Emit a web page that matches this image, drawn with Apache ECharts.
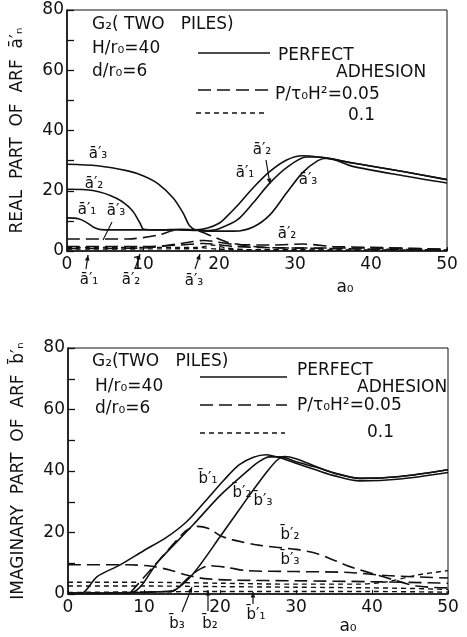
<!DOCTYPE html>
<html><head><meta charset="utf-8">
<script src="https://cdn.jsdelivr.net/npm/echarts@6/dist/echarts.min.js"></script>
<style>html,body{margin:0;padding:0;background:#fff}#c{width:467px;height:637px}</style>
</head><body><div id="c"></div>
<script>
// ---------- data (x = a0, y = ARF) ----------
const X_TICKS = [0, 10, 20, 30, 40, 50];
const Y_TICKS = [0, 20, 40, 60, 80];

// Real part, perfect adhesion
const A1_SOLID = [[0,11],[1.5,10.7],[2.5,9.6],[3.5,7.9],[4.5,7.1],[8,7],[12,7],[15,7.2],[17,7],[18.5,7.6],[20,9.2],[21,11.4],[22.4,15],[24.5,21],[26.7,26.4],[28.9,30.2],[31,31.6],[33,31.2],[37.6,29.2],[44.2,26.4],[50,23.7]];
const A2_SOLID = [[0,20.5],[3.4,20.1],[6.5,17.5],[8.5,13.7],[9.6,9.3],[10.1,7.2],[12,7],[15,7],[17,6.8],[19,6.9],[20,7.4],[22.4,10.3],[24.5,16],[26.7,22.6],[28.9,27.7],[31.5,31.2],[33,31.2],[37.6,29.2],[44.2,26.4],[50,23.7]];
const A3_SOLID = [[0,28.8],[4,28.3],[8,26.6],[10,25],[12,22.3],[14,17.5],[15.3,12.5],[16.1,8.5],[17,7],[19,6.6],[22,6.6],[24.5,8],[26.7,12],[28.9,19.3],[31,26],[33,30],[34.2,30.8],[37.6,28.1],[44.2,25],[50,22.6]];
// Real part, P/t0H^2 = 0.05
const A1_P05 = [[0,1.5],[10,1.5],[15,2],[18,2.5],[22,1.5],[30,1],[40,1],[50,0.5]];
const A2_P05 = [[0,0.8],[10,1],[15,2.5],[18,3.5],[22,2.2],[27,2],[31,2.3],[35,1.5],[40,1.2],[50,0.6]];
const A3_P05 = [[0,4],[8,4],[12,5.3],[14.5,7],[17,6.8],[19,5],[21,3],[23,2],[26,1.2],[30,1],[40,0.6],[50,0.3]];
// Real part, P/t0H^2 = 0.1
const A1_P1 = [[0,1.2],[10,1.2],[17,1.2],[20,0.6],[30,0.4],[50,0.3]];
const A2_P1 = [[0,0.6],[10,0.7],[17,0.8],[19,2],[21,1],[24,0.3],[50,0.2]];

// Imaginary part, perfect adhesion
const B1_SOLID = [[0,0.2],[1.8,0.3],[3.8,5.6],[6.8,9.4],[9.9,14],[13,18.5],[15.6,23.5],[18,30],[20.5,37],[22.5,42],[24.4,44.5],[26.1,45.3],[28,44.2],[30,42.5],[32.7,40.3],[35,38.5],[38.4,36.8],[43.7,37.4],[50,39.5]];
const B2_SOLID = [[0,0.2],[8.2,0.4],[12,11],[16.5,22.6],[20,32],[23.5,39.8],[25,42.8],[26.5,44.6],[28,44.6],[30,43],[32.7,41.2],[35,39.3],[38.4,37.6],[43.7,38.2],[50,40.4]];
const B3_SOLID = [[0,0.2],[8,0.4],[13,0.8],[14.1,1.3],[16.5,6.7],[20,18.6],[23.7,31.5],[26.1,39.5],[27.5,43.5],[28.5,44.7],[30,44],[32.7,41.4],[35,39.4],[38.4,37.6],[43.7,38.2],[50,40.4]];
// Imaginary part, P/t0H^2 = 0.05
const B1_P05 = [[0,9.5],[8,9.5],[11,9],[13.4,7.8],[15.6,6.2],[18,5],[22,4.5],[30,4.3],[40,4],[50,3.5]];
const B2_P05 = [[8.2,0.4],[12,11],[15.5,20.5],[17,22],[18.5,21.3],[20,19],[21.7,17.6],[25.3,15.8],[30,14.5],[32.7,13.2],[35,11],[37.1,8.9],[41.5,5.6],[45.9,2.6],[50,2]];
const B3_P05 = [[0,0.2],[13,0.8],[14.1,1.3],[16.5,6.7],[18.7,9.2],[21,8.6],[23.5,7.6],[30,7.3],[37,7],[42,6],[50,5.2]];
// Imaginary part, P/t0H^2 = 0.1
const B1_P1 = [[0,3.8],[10,3.8],[15,3.7],[20,3.5],[30,3.2],[38,3.2],[42,4],[46,6.2],[50,7.6]];
const B2_P1 = [[0,2.6],[10,2.6],[20,2.4],[30,2.2],[40,2],[45,1.8],[50,1.5]];
const B3_P1 = [[0,0.5],[20,0.8],[30,0.8],[40,0.8],[50,0.6]];

// ---------- chart ----------
const FONT = 'DejaVu Sans';
const BLACK = '#111';
const LONG = [13, 6];
const SHORT = [5, 4];

function mkX(gi) {
  return {
    type: 'value', gridIndex: gi, min: 0, max: 50, interval: 10,
    axisLine: { lineStyle: { color: BLACK, width: 1.6 } },
    axisTick: { inside: true, length: 4, lineStyle: { color: BLACK } },
    axisLabel: { color: BLACK, fontFamily: FONT, fontSize: 17, margin: 5,
      formatter: v => X_TICKS.includes(v) ? String(v) : '' },
    splitLine: { show: false }
  };
}
function mkY(gi, name, gap) {
  return {
    type: 'value', gridIndex: gi, min: 0, max: 80, interval: 10,
    name: name, nameLocation: 'middle', nameRotate: 90, nameGap: gap,
    nameTextStyle: { color: BLACK, fontFamily: FONT, fontSize: 17 },
    axisLine: { lineStyle: { color: BLACK, width: 1.6 } },
    axisTick: { inside: true, length: 7, lineStyle: { color: BLACK, width: 1.3 } },
    axisLabel: { color: BLACK, fontFamily: FONT, fontSize: 17, margin: 3,
      formatter: v => Y_TICKS.includes(v) ? String(v) : '' },
    splitLine: { show: false }
  };
}
function ser(data, gi, dash, w) {
  return {
    type: 'line', xAxisIndex: gi, yAxisIndex: gi, data: data,
    showSymbol: false, smooth: 0.3, silent: true,
    lineStyle: { color: BLACK, width: w || 1.6, type: dash || 'solid' }
  };
}

function txt(t, x, y, size, align) {
  return { type: 'text', silent: true, x: x, y: y,
    style: { text: t, font: (size || 16) + 'px ' + FONT, fill: BLACK,
      textAlign: align || 'left', align: align || 'left',
      textVerticalAlign: 'middle', verticalAlign: 'middle' } };
}
function ln(x1, y1, x2, y2, dash, w) {
  return { type: 'line', silent: true, shape: { x1, y1, x2, y2 },
    style: { stroke: BLACK, lineWidth: w || 1.6, lineDash: dash || null } };
}
function arrow(x1, y1, x2, y2) {
  const a = Math.atan2(y2 - y1, x2 - x1), L = 6, s = 0.4;
  const p1 = [x2 - L * Math.cos(a - s), y2 - L * Math.sin(a - s)];
  const p2 = [x2 - L * Math.cos(a + s), y2 - L * Math.sin(a + s)];
  return [ln(x1, y1, x2, y2, null, 1.2),
    { type: 'polygon', silent: true, shape: { points: [[x2, y2], p1, p2] }, style: { fill: BLACK } }];
}

const graphics = [
  // top panel text block
  txt('G\u2082( TWO   PILES)', 92, 25, 17),
  txt('H/r\u2080=40', 92, 49, 17),
  txt('d/r\u2080=6', 92, 72, 17),
  ln(198, 53, 270, 53), txt('PERFECT', 278, 56, 17),
  txt('ADHESION', 336, 73, 17),
  ln(198, 90, 270, 90, LONG), txt('P/\u03C4\u2080H\u00B2=0.05', 275, 95, 17),
  ln(196, 113, 268, 113, SHORT), txt('0.1', 348, 116, 17),
  // top curve labels
  txt('\u0101\u2032\u2083', 98, 154, 15, 'center'),
  txt('\u0101\u2032\u2082', 94, 184, 15, 'center'),
  txt('\u0101\u2032\u2081', 87, 210, 15, 'center'),
  txt('\u0101\u2032\u2083', 116, 211, 15, 'center'),
  ln(112, 222, 103, 240, null, 1.1),
  txt('\u0101\u2032\u2082', 262, 150, 15, 'center'),
  ...arrow(266, 160, 270, 184),
  txt('\u0101\u2032\u2081', 245, 173, 15, 'center'),
  txt('\u0101\u2032\u2083', 308, 180, 15, 'center'),
  txt('\u0101\u2032\u2082', 287, 234, 15, 'center'),
  // top below-axis markers
  txt('\u0101\u2032\u2081', 89, 280, 15, 'center'), ...arrow(86, 269, 88, 255),
  txt('\u0101\u2032\u2082', 131, 280, 15, 'center'), ...arrow(135, 269, 140, 254),
  txt('\u0101\u2032\u2083', 194, 281, 15, 'center'), ...arrow(195, 269, 200, 254),
  txt('a\u2080', 345, 288, 17, 'center'),

  // bottom panel text block
  txt('G\u2082(TWO   PILES)', 92, 362, 17),
  txt('H/r\u2080=40', 95, 387, 17),
  txt('d/r\u2080=6', 95, 409, 17),
  ln(200, 377, 287, 377), txt('PERFECT', 297, 371, 17),
  txt('ADHESION', 357, 388, 17),
  ln(200, 405, 287, 405, LONG), txt('P/\u03C4\u2080H\u00B2=0.05', 297, 406, 17),
  ln(200, 433, 285, 433, SHORT), txt('0.1', 367, 433, 17),
  // bottom curve labels
  txt('b\u0304\u2032\u2081', 208, 479, 15, 'center'),
  txt('b\u0304\u2032\u2082', 242, 493, 15, 'center'),
  txt('b\u0304\u2032\u2083', 263, 501, 15, 'center'),
  txt('b\u0304\u2032\u2082', 290, 535, 15, 'center'),
  txt('b\u0304\u2032\u2083', 290, 560, 15, 'center'),
  // bottom below-axis markers
  txt('b\u0304\u2083', 177, 624, 15, 'center'), ...arrow(182, 612, 192, 587),
  txt('b\u0304\u2082', 210, 624, 15, 'center'), ...arrow(208, 611, 208, 590),
  txt('b\u0304\u2032\u2081', 256, 615, 15, 'center'), ...arrow(253, 604, 253, 592),
  txt('a\u2080', 348, 627, 17, 'center')
];

const chart = echarts.init(document.getElementById('c'), null, { renderer: 'canvas' });
chart.setOption({
  animation: false,
  backgroundColor: '#fff',
  grid: [
    { left: 67, top: 10, width: 380, height: 241, show: true, borderColor: BLACK, borderWidth: 1, backgroundColor: 'transparent' },
    { left: 68, top: 348, width: 380, height: 246, show: true, borderColor: BLACK, borderWidth: 1, backgroundColor: 'transparent' }
  ],
  xAxis: [mkX(0), mkX(1)],
  yAxis: [mkY(0, 'REAL  PART  OF  ARF  \u0101\u2032\u2099', 41), mkY(1, 'IMAGINARY  PART  OF  ARF  b\u0304\u2032\u2099', 41)],
  series: [
    ser(A1_SOLID, 0), ser(A2_SOLID, 0), ser(A3_SOLID, 0),
    ser(A1_P05, 0, LONG), ser(A2_P05, 0, LONG), ser(A3_P05, 0, LONG),
    ser(A1_P1, 0, SHORT, 1.4), ser(A2_P1, 0, SHORT, 1.4),
    ser(B1_SOLID, 1), ser(B2_SOLID, 1), ser(B3_SOLID, 1),
    ser(B1_P05, 1, LONG), ser(B2_P05, 1, LONG), ser(B3_P05, 1, LONG),
    ser(B1_P1, 1, SHORT, 1.4), ser(B2_P1, 1, SHORT, 1.4), ser(B3_P1, 1, SHORT, 1.4)
  ],
  graphic: graphics
});
</script></body></html>
